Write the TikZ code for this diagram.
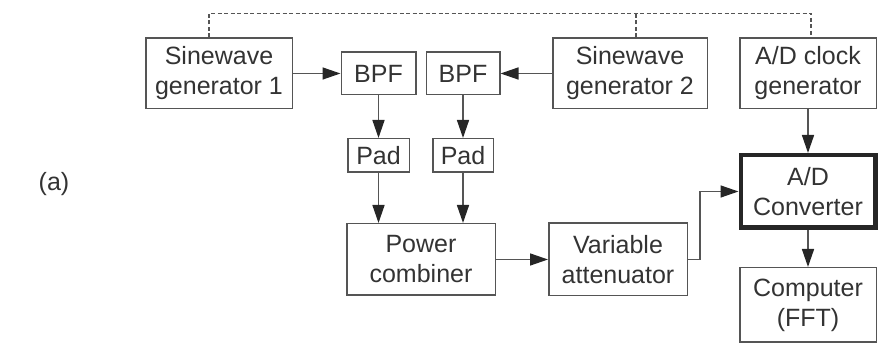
\documentclass[tikz,border=0pt]{standalone}
\usepackage{fontspec}
\setmainfont{Liberation Sans}
\usepackage{xcolor}
\usetikzlibrary{positioning,arrows.meta}
\definecolor{linegray}{HTML}{555555}
\definecolor{textgray}{HTML}{333333}

\begin{document}
\begin{tikzpicture}[x=1pt, y=1pt, >={Triangle[length=18pt,width=12pt,color=black!85]},
    every node/.style={font=\fontsize{25}{30}\selectfont, text=textgray, align=center, inner sep=0pt},
    box/.style={draw=linegray, line width=1.5pt, rectangle},
    link/.style={draw=linegray, line width=1.5pt, ->},
    sync/.style={draw=linegray, line width=1.3pt, dash pattern=on 4pt off 2.5pt}]
    \useasboundingbox (0,0) rectangle (879,344);

    % Nodes
    \node (a) at (54,160) {(a)};
    \node[box, minimum width=146.5pt, minimum height=70.5pt] (G1) at (219,270.5) {Sinewave\\generator 1};
    \node[box, minimum width=74.5pt, minimum height=42.5pt] (B1) at (378.5,270.5) {BPF};
    \node[box, minimum width=73.5pt, minimum height=42.5pt] (B2) at (463,270.5) {BPF};
    \node[box, minimum width=154.5pt, minimum height=70.5pt] (G2) at (630,270.5) {Sinewave\\generator 2};
    \node[box, minimum width=136.5pt, minimum height=70.5pt] (CLK) at (808,270.5) {A/D clock\\generator};
    \node[box, minimum width=61.5pt, minimum height=33.5pt] (P1) at (378.5,188.5) {Pad};
    \node[box, minimum width=60.5pt, minimum height=33.5pt] (P2) at (463,188.5) {Pad};
    \node[box, minimum width=148.5pt, minimum height=71.5pt] (PC) at (421,84.5) {Power\\combiner};
    \node[box, minimum width=138.5pt, minimum height=72.5pt] (VA) at (618,84.5) {Variable\\attenuator};
    \node[box, draw=black!85, line width=4.5pt, minimum width=134.5pt, minimum height=72.5pt] (ADC) at (808,152.5) {A/D\\Converter};
    \node[box, minimum width=136.5pt, minimum height=74.5pt] (FFT) at (808,39) {Computer\\(FFT)};

    % Arrows
    \draw[link] (G1) -- (B1);
    \draw[link] (G2) -- (B2);
    \draw[link] (B1) -- (P1);
    \draw[link] (B2) -- (P2);
    \draw[link] (P1) -- (P1 |- PC.north);
    \draw[link] (P2) -- (P2 |- PC.north);
    \draw[link] (PC) -- (VA);
    \draw[link] (VA.east) -- ++(12pt,0) |- (ADC.west);
    \draw[link] (CLK) -- (ADC);
    \draw[link] (ADC) -- (FFT);

    % Dashed sync line over the generators
    \draw[sync] ([xshift=-10pt]G1.north) -- ++(0,24) -| ([xshift=3pt]CLK.north);
    \draw[sync] ([xshift=6pt]G2.north) -- ++(0,24);
\end{tikzpicture}
\end{document}
